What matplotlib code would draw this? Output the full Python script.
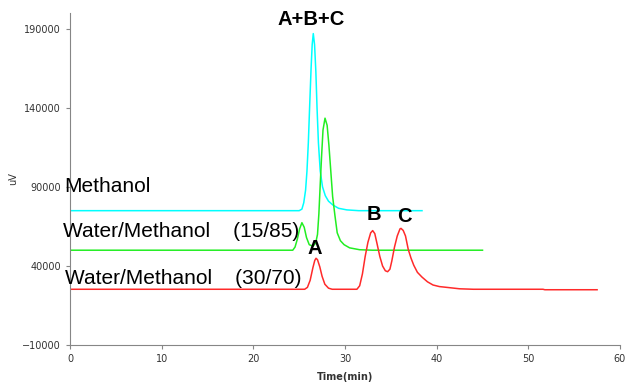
import matplotlib
matplotlib.use("Agg")
import matplotlib.pyplot as plt

#%% data (time in min, signal in uV)
meoh_t = [0, 25.0, 25.3, 25.5, 25.7, 25.85, 26.0, 26.15, 26.3, 26.42, 26.54,
          26.68, 26.82, 26.95, 27.1, 27.3, 27.55, 27.85, 28.2, 28.7, 29.3,
          30.2, 31.5, 38.4]
meoh_v = [75000, 75000, 76000, 80000, 88000, 100000, 118000, 142000, 165000,
          180000, 187000, 180000, 163000, 140000, 118000, 100000, 90000, 84500,
          81000, 78500, 76500, 75500, 75000, 75000]

w15_t = [0, 24.3, 24.55, 24.8, 25.05, 25.3, 25.55, 25.8, 26.1, 26.5, 26.8,
         27.0, 27.15, 27.3, 27.45, 27.6, 27.82, 28.05, 28.25, 28.45, 28.65,
         28.9, 29.15, 29.5, 29.9, 30.5, 31.6, 33.0, 45.0]
w15_v = [50000, 50000, 52000, 57000, 63500, 67400, 64500, 58000, 53500, 52500,
         54500, 60000, 73000, 92000, 110000, 126000, 133500, 129000, 116000,
         100000, 84000, 72000, 61000, 56000, 53500, 51500, 50300, 50000, 50000]

w30_t = [0, 25.6, 25.9, 26.2, 26.5, 26.7, 26.84, 27.0, 27.25, 27.5, 27.8, 28.2,
         28.6, 31.3, 31.6, 31.9, 32.2, 32.5, 32.8, 33.02, 33.25, 33.5, 33.8,
         34.1, 34.4, 34.65, 34.9, 35.1, 35.4, 35.7, 36.0, 36.11, 36.35, 36.6,
         36.9, 37.2, 37.5, 37.9, 38.4, 39.0, 39.6, 40.3, 41.1, 42.5, 44.0,
         51.6, 51.8, 57.5]
w30_v = [25300, 25300, 26500, 31000, 39000, 43500, 44900, 44000, 39500, 33500,
         28500, 26000, 25300, 25300, 27500, 35000, 46000, 55000, 61000, 62400,
         60500, 54000, 46000, 40000, 37000, 36400, 38000, 43000, 52000, 59000,
         63500, 63800, 62500, 59000, 50500, 45000, 40500, 36000, 33000, 30000,
         28000, 27000, 26500, 25600, 25300, 25300, 25000, 25000]

yticks = [-10000, 40000, 90000, 140000, 190000]
xticks = [0, 10, 20, 30, 40, 50, 60]

#%% plot
fig = plt.figure(figsize=(6.25, 3.83), dpi=100)
ax = fig.add_axes([0.112, 0.099, 0.88, 0.867])

ax.plot(meoh_t, meoh_v, color='#00ffff', lw=1.1)
ax.plot(w15_t, w15_v, color='#22ee22', lw=1.1)
ax.plot(w30_t, w30_v, color='#ff2a2a', lw=1.1)

tfont = dict(family='Liberation Sans', fontsize=15, color='black')
ax.text(-0.6, 90600, 'Methanol', va='center', ha='left', **tfont)
ax.text(-0.8, 61700, 'Water/Methanol    (15/85)', va='center', ha='left', **tfont)
ax.text(-0.55, 32200, 'Water/Methanol    (30/70)', va='center', ha='left', **tfont)

bfont = dict(family='Liberation Sans', fontsize=14.5, fontweight='bold')
ax.text(26.27, 195700, 'A+B+C', ha='center', va='center', **bfont)
ax.text(26.65, 51200, 'A', ha='center', va='center', **bfont)
ax.text(33.2, 72300, 'B', ha='center', va='center', **bfont)
ax.text(36.47, 71200, 'C', ha='center', va='center', **bfont)

ax.set_xlim(0, 60)
ax.set_ylim(-10000, 200000)
ax.set_xticks(xticks)
ax.set_yticks(yticks)
ax.tick_params(labelsize=7, length=3, color='#868686', labelcolor='#333333')
for s in ['top', 'right']:
    ax.spines[s].set_visible(False)
for s in ['left', 'bottom']:
    ax.spines[s].set_color('#868686')

ax.set_xlabel('Time(min)', fontsize=7, fontweight='bold', color='#333333', labelpad=6)
ax.set_ylabel('uV', fontsize=7, color='#333333', labelpad=3)

plt.savefig('out.png', dpi=100)
